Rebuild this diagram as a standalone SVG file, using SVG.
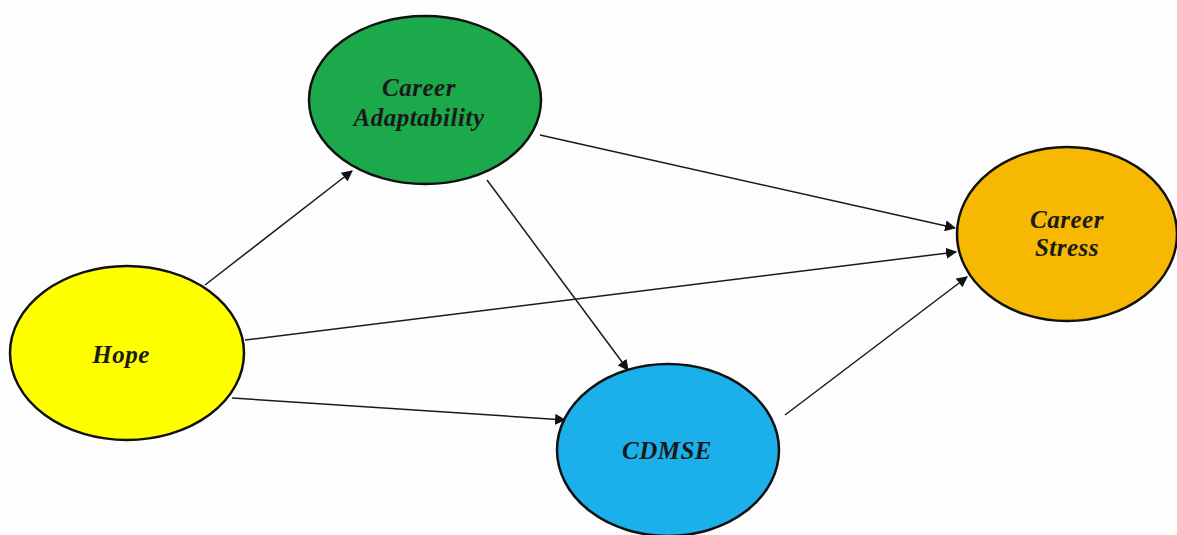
<svg xmlns="http://www.w3.org/2000/svg" width="1177" height="535" viewBox="0 0 1177 535">
<style>
.node{stroke:#111;stroke-width:2.5}
.lbl{font-family:"Liberation Serif",serif;font-weight:bold;font-style:italic;font-size:25px;letter-spacing:0.5px;fill:#1a1a1a;text-anchor:middle}
.edge{stroke:#1a1a1a;stroke-width:1.5;fill:none;marker-end:url(#arr)}
</style>
<defs>
<marker id="arr" viewBox="0 0 10 10" refX="9" refY="5" markerWidth="11" markerHeight="11" markerUnits="userSpaceOnUse" orient="auto">
<path d="M0,0 L10,5 L0,10 Z" fill="#111"/>
</marker>
</defs>
<rect width="1177" height="535" fill="#fdfdfd"/>
<g id="connectors">
<line class="edge" x1="205" y1="285" x2="352" y2="171"/>
<line class="edge" x1="540" y1="135" x2="955" y2="228"/>
<line class="edge" x1="487" y1="180" x2="628" y2="370"/>
<line class="edge" x1="245" y1="340" x2="956" y2="252"/>
<line class="edge" x1="232" y1="398" x2="565" y2="420"/>
<line class="edge" x1="785" y1="415" x2="967" y2="277"/>
</g>
<g id="career-adaptability">
<ellipse class="node" cx="425" cy="100" rx="116" ry="84" fill="#1ca94c"/>
<text class="lbl" x="419" y="96">Career</text>
<text class="lbl" x="419" y="126">Adaptability</text>
</g>
<g id="hope">
<ellipse class="node" cx="127" cy="353" rx="117" ry="87" fill="#ffff00"/>
<text class="lbl" x="121" y="363">Hope</text>
</g>
<g id="cdmse">
<ellipse class="node" cx="668" cy="450" rx="111" ry="86" fill="#1cb0ea"/>
<text class="lbl" x="667" y="459">CDMSE</text>
</g>
<g id="career-stress">
<ellipse class="node" cx="1067" cy="234" rx="110" ry="87" fill="#f6b800"/>
<text class="lbl" x="1067" y="228">Career</text>
<text class="lbl" x="1067" y="256">Stress</text>
</g>
</svg>
